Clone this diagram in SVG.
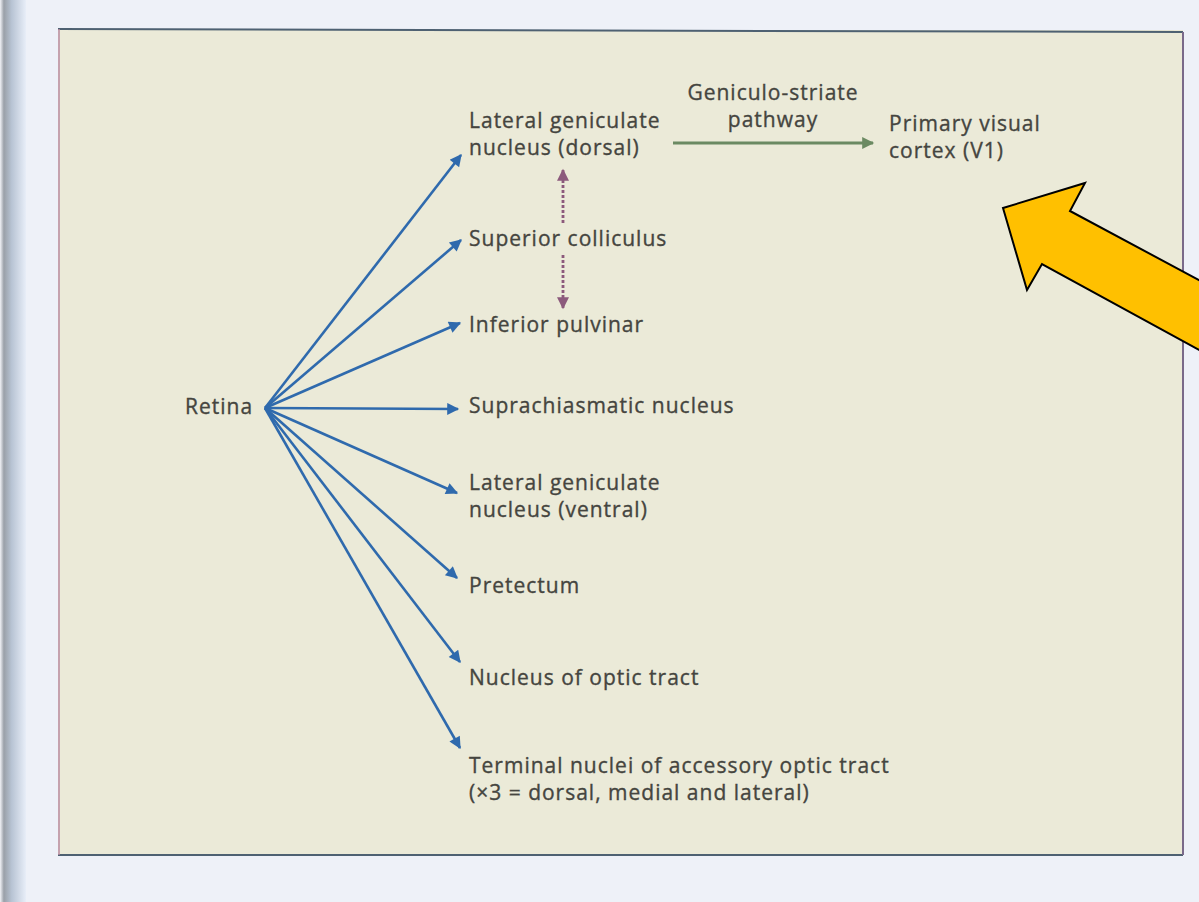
<svg xmlns="http://www.w3.org/2000/svg" width="1199" height="902" viewBox="0 0 1199 902">
  <defs>
    <linearGradient id="spine" x1="0" y1="0" x2="1" y2="0">
      <stop offset="0" stop-color="#f2f3f7"/>
      <stop offset="0.15" stop-color="#9aa0a8"/>
      <stop offset="0.45" stop-color="#b8c4d4"/>
      <stop offset="1" stop-color="#e8eef8"/>
    </linearGradient>
    <marker id="headBlue" viewBox="0 0 10 10" refX="9" refY="5" markerWidth="17" markerHeight="12" markerUnits="userSpaceOnUse" orient="auto">
      <path d="M0,0 L10,5 L0,10 z" fill="#2f6aad"/>
    </marker>
    <marker id="headGreen" viewBox="0 0 10 10" refX="9" refY="5" markerWidth="20" markerHeight="12" markerUnits="userSpaceOnUse" orient="auto">
      <path d="M0,0 L10,5 L0,10 z" fill="#6b8a62"/>
    </marker>
    <marker id="headPurple" viewBox="0 0 10 10" refX="9" refY="5" markerWidth="16" markerHeight="12" markerUnits="userSpaceOnUse" orient="auto">
      <path d="M0,0 L10,5 L0,10 z" fill="#8c5a7c"/>
    </marker>
    <style>
      .lbl { font-family: "Open Sans", "Noto Sans", "Liberation Sans", sans-serif; font-size: 21px; letter-spacing: 1px; fill: #45453f; stroke: #45453f; stroke-width: 0.35; }
      .blue { stroke: #2f6aad; stroke-width: 2.6; fill: none; marker-end: url(#headBlue); }
      .green { stroke: #6b8a62; stroke-width: 2.8; fill: none; marker-end: url(#headGreen); }
      .purple { stroke: #8c5a7c; stroke-width: 2.8; fill: none; stroke-dasharray: 3 2; marker-end: url(#headPurple); }
    </style>
  </defs>

  <!-- page around the figure -->
  <rect x="0" y="0" width="1199" height="902" fill="#eef1f8"/>
  <rect x="0" y="0" width="26" height="902" fill="url(#spine)"/>

  <!-- figure panel -->
  <rect x="58" y="30" width="1125" height="825" fill="#ebead8"/>
  <line x1="58" y1="29" x2="1183" y2="32" stroke="#4e6172" stroke-width="2"/>
  <line x1="58" y1="855" x2="1183" y2="855" stroke="#4e6172" stroke-width="2"/>
  <line x1="59" y1="29" x2="59" y2="855" stroke="#b98aa0" stroke-width="1.5"/>
  <line x1="1183" y1="32" x2="1183" y2="855" stroke="#7a6a8a" stroke-width="2"/>

  <!-- connectors -->
  <g id="connectors">
    <line class="blue" x1="265" y1="408" x2="461" y2="155"/>
    <line class="blue" x1="265" y1="408" x2="461" y2="240"/>
    <line class="blue" x1="265" y1="408" x2="460" y2="323"/>
    <line class="blue" x1="265" y1="408" x2="458" y2="409"/>
    <line class="blue" x1="265" y1="408" x2="457" y2="493"/>
    <line class="blue" x1="265" y1="408" x2="457" y2="578"/>
    <line class="blue" x1="265" y1="408" x2="460" y2="662"/>
    <line class="blue" x1="265" y1="408" x2="460" y2="748"/>
    <line class="green" x1="673" y1="143" x2="873" y2="143"/>
    <line class="purple" x1="563" y1="223" x2="563" y2="170"/>
    <line class="purple" x1="563" y1="255" x2="563" y2="308"/>
  </g>

  <!-- nodes -->
  <g id="retina"><text class="lbl" x="185" y="414">Retina</text></g>
  <g id="lgn-dorsal"><text class="lbl" x="469" y="128">Lateral geniculate</text><text class="lbl" x="469" y="155">nucleus (dorsal)</text></g>
  <g id="pathway-label"><text class="lbl" x="773" y="100" text-anchor="middle">Geniculo-striate</text><text class="lbl" x="773" y="127" text-anchor="middle">pathway</text></g>
  <g id="v1"><text class="lbl" x="889" y="131">Primary visual</text><text class="lbl" x="889" y="158">cortex (V1)</text></g>
  <g id="superior-colliculus"><text class="lbl" x="469" y="246">Superior colliculus</text></g>
  <g id="inferior-pulvinar"><text class="lbl" x="469" y="332">Inferior pulvinar</text></g>
  <g id="scn"><text class="lbl" x="469" y="413">Suprachiasmatic nucleus</text></g>
  <g id="lgn-ventral"><text class="lbl" x="469" y="490">Lateral geniculate</text><text class="lbl" x="469" y="517">nucleus (ventral)</text></g>
  <g id="pretectum"><text class="lbl" x="469" y="593">Pretectum</text></g>
  <g id="not"><text class="lbl" x="469" y="685">Nucleus of optic tract</text></g>
  <g id="aot"><text class="lbl" x="469" y="773">Terminal nuclei of accessory optic tract</text><text class="lbl" x="469" y="800">(×3 = dorsal, medial and lateral)</text></g>

  <!-- yellow pointer arrow -->
  <g id="pointer">
    <polygon points="1003,208 1085,183 1070,211 1210,286 1210,356 1042,264 1027,290" fill="#ffc000" stroke="#000" stroke-width="2" stroke-linejoin="miter"/>
  </g>
</svg>
